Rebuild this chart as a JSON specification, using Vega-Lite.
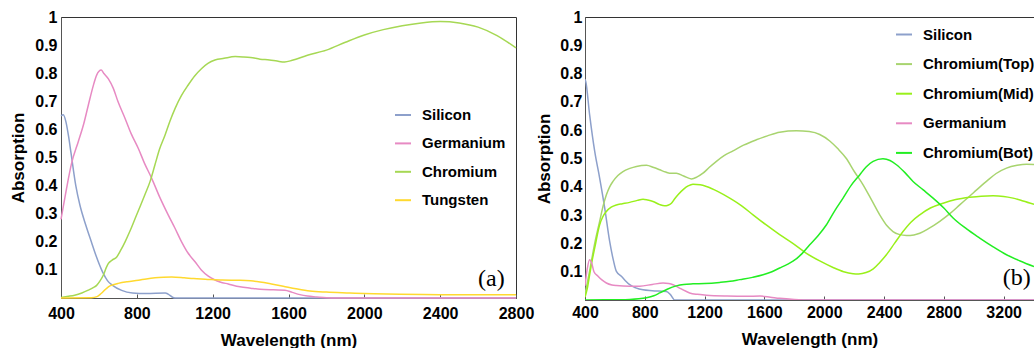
{
  "$schema": "https://vega.github.io/schema/vega-lite/v6.json",
  "padding": {"left": 9, "top": 8, "right": 0, "bottom": 0},
  "spacing": 0,
  "config": {
    "font": "Liberation Sans",
    "view": {"stroke": "#333"},
    "axis": {"labelFont": "Liberation Sans", "labelFontWeight": "bold", "labelFontSize": 16, "labelColor": "#000", "titleFont": "Liberation Sans", "titleFontWeight": "bold", "titleFontSize": 17, "titleColor": "#000", "grid": false, "domainColor": "#555", "labelFlush": false, "labelOverlap": false},
    "legend": {"orient": "none", "direction": "vertical", "title": null, "labelFont": "Liberation Sans", "labelFontSize": 15, "labelFontWeight": "bold", "labelColor": "#000", "symbolSize": 256, "symbolStrokeWidth": 2, "labelOffset": 10, "padding": 0}
  },
  "resolve": {"scale": {"color": "independent"}},
  "datasets": {
    "a": [
      {"s": "Silicon", "x": 400, "y": 0.648}, {"s": "Silicon", "x": 412, "y": 0.652}, {"s": "Silicon", "x": 426, "y": 0.627}, {"s": "Silicon", "x": 440, "y": 0.575}, {"s": "Silicon", "x": 452, "y": 0.52}, {"s": "Silicon", "x": 478, "y": 0.4}, {"s": "Silicon", "x": 500, "y": 0.33}, {"s": "Silicon", "x": 531, "y": 0.259}, {"s": "Silicon", "x": 560, "y": 0.2}, {"s": "Silicon", "x": 584, "y": 0.152}, {"s": "Silicon", "x": 619, "y": 0.093}, {"s": "Silicon", "x": 645, "y": 0.062}, {"s": "Silicon", "x": 672, "y": 0.045}, {"s": "Silicon", "x": 720, "y": 0.027}, {"s": "Silicon", "x": 777, "y": 0.018}, {"s": "Silicon", "x": 850, "y": 0.016}, {"s": "Silicon", "x": 950, "y": 0.018}, {"s": "Silicon", "x": 965, "y": 0.014}, {"s": "Silicon", "x": 990, "y": 0.002}, {"s": "Silicon", "x": 1000, "y": 0}, {"s": "Silicon", "x": 1500, "y": 0}, {"s": "Silicon", "x": 2800, "y": 0},
      {"s": "Germanium", "x": 400, "y": 0.28}, {"s": "Germanium", "x": 426, "y": 0.378}, {"s": "Germanium", "x": 456, "y": 0.48}, {"s": "Germanium", "x": 491, "y": 0.556}, {"s": "Germanium", "x": 520, "y": 0.62}, {"s": "Germanium", "x": 544, "y": 0.686}, {"s": "Germanium", "x": 570, "y": 0.755}, {"s": "Germanium", "x": 588, "y": 0.793}, {"s": "Germanium", "x": 612, "y": 0.811}, {"s": "Germanium", "x": 625, "y": 0.8}, {"s": "Germanium", "x": 650, "y": 0.78}, {"s": "Germanium", "x": 676, "y": 0.746}, {"s": "Germanium", "x": 700, "y": 0.7}, {"s": "Germanium", "x": 738, "y": 0.639}, {"s": "Germanium", "x": 770, "y": 0.585}, {"s": "Germanium", "x": 808, "y": 0.532}, {"s": "Germanium", "x": 840, "y": 0.48}, {"s": "Germanium", "x": 879, "y": 0.425}, {"s": "Germanium", "x": 920, "y": 0.36}, {"s": "Germanium", "x": 966, "y": 0.295}, {"s": "Germanium", "x": 1000, "y": 0.25}, {"s": "Germanium", "x": 1036, "y": 0.2}, {"s": "Germanium", "x": 1070, "y": 0.16}, {"s": "Germanium", "x": 1107, "y": 0.129}, {"s": "Germanium", "x": 1140, "y": 0.1}, {"s": "Germanium", "x": 1177, "y": 0.078}, {"s": "Germanium", "x": 1210, "y": 0.065}, {"s": "Germanium", "x": 1239, "y": 0.057}, {"s": "Germanium", "x": 1282, "y": 0.05}, {"s": "Germanium", "x": 1344, "y": 0.04}, {"s": "Germanium", "x": 1400, "y": 0.035}, {"s": "Germanium", "x": 1450, "y": 0.031}, {"s": "Germanium", "x": 1520, "y": 0.029}, {"s": "Germanium", "x": 1581, "y": 0.028}, {"s": "Germanium", "x": 1620, "y": 0.02}, {"s": "Germanium", "x": 1660, "y": 0.012}, {"s": "Germanium", "x": 1700, "y": 0.007}, {"s": "Germanium", "x": 1748, "y": 0.004}, {"s": "Germanium", "x": 1800, "y": 0.001}, {"s": "Germanium", "x": 1850, "y": 0}, {"s": "Germanium", "x": 2800, "y": 0},
      {"s": "Chromium", "x": 400, "y": 0.002}, {"s": "Chromium", "x": 440, "y": 0.006}, {"s": "Chromium", "x": 472, "y": 0.01}, {"s": "Chromium", "x": 510, "y": 0.018}, {"s": "Chromium", "x": 544, "y": 0.028}, {"s": "Chromium", "x": 570, "y": 0.037}, {"s": "Chromium", "x": 588, "y": 0.045}, {"s": "Chromium", "x": 605, "y": 0.06}, {"s": "Chromium", "x": 623, "y": 0.081}, {"s": "Chromium", "x": 640, "y": 0.11}, {"s": "Chromium", "x": 650, "y": 0.123}, {"s": "Chromium", "x": 670, "y": 0.135}, {"s": "Chromium", "x": 694, "y": 0.146}, {"s": "Chromium", "x": 715, "y": 0.17}, {"s": "Chromium", "x": 738, "y": 0.2}, {"s": "Chromium", "x": 765, "y": 0.24}, {"s": "Chromium", "x": 791, "y": 0.283}, {"s": "Chromium", "x": 820, "y": 0.33}, {"s": "Chromium", "x": 844, "y": 0.37}, {"s": "Chromium", "x": 870, "y": 0.415}, {"s": "Chromium", "x": 896, "y": 0.475}, {"s": "Chromium", "x": 920, "y": 0.53}, {"s": "Chromium", "x": 949, "y": 0.58}, {"s": "Chromium", "x": 975, "y": 0.63}, {"s": "Chromium", "x": 1002, "y": 0.675}, {"s": "Chromium", "x": 1035, "y": 0.72}, {"s": "Chromium", "x": 1071, "y": 0.758}, {"s": "Chromium", "x": 1105, "y": 0.79}, {"s": "Chromium", "x": 1142, "y": 0.817}, {"s": "Chromium", "x": 1175, "y": 0.835}, {"s": "Chromium", "x": 1212, "y": 0.847}, {"s": "Chromium", "x": 1260, "y": 0.853}, {"s": "Chromium", "x": 1319, "y": 0.859}, {"s": "Chromium", "x": 1360, "y": 0.858}, {"s": "Chromium", "x": 1400, "y": 0.856}, {"s": "Chromium", "x": 1450, "y": 0.85}, {"s": "Chromium", "x": 1500, "y": 0.847}, {"s": "Chromium", "x": 1540, "y": 0.843}, {"s": "Chromium", "x": 1580, "y": 0.84}, {"s": "Chromium", "x": 1620, "y": 0.846}, {"s": "Chromium", "x": 1700, "y": 0.864}, {"s": "Chromium", "x": 1800, "y": 0.882}, {"s": "Chromium", "x": 1900, "y": 0.91}, {"s": "Chromium", "x": 2000, "y": 0.936}, {"s": "Chromium", "x": 2100, "y": 0.955}, {"s": "Chromium", "x": 2200, "y": 0.969}, {"s": "Chromium", "x": 2300, "y": 0.979}, {"s": "Chromium", "x": 2400, "y": 0.984}, {"s": "Chromium", "x": 2500, "y": 0.979}, {"s": "Chromium", "x": 2600, "y": 0.964}, {"s": "Chromium", "x": 2700, "y": 0.934}, {"s": "Chromium", "x": 2800, "y": 0.89},
      {"s": "Tungsten", "x": 400, "y": 0}, {"s": "Tungsten", "x": 560, "y": 0.001}, {"s": "Tungsten", "x": 590, "y": 0.005}, {"s": "Tungsten", "x": 610, "y": 0.015}, {"s": "Tungsten", "x": 630, "y": 0.028}, {"s": "Tungsten", "x": 650, "y": 0.04}, {"s": "Tungsten", "x": 675, "y": 0.047}, {"s": "Tungsten", "x": 702, "y": 0.052}, {"s": "Tungsten", "x": 750, "y": 0.058}, {"s": "Tungsten", "x": 808, "y": 0.063}, {"s": "Tungsten", "x": 850, "y": 0.068}, {"s": "Tungsten", "x": 896, "y": 0.072}, {"s": "Tungsten", "x": 940, "y": 0.074}, {"s": "Tungsten", "x": 984, "y": 0.075}, {"s": "Tungsten", "x": 1050, "y": 0.072}, {"s": "Tungsten", "x": 1100, "y": 0.069}, {"s": "Tungsten", "x": 1161, "y": 0.067}, {"s": "Tungsten", "x": 1250, "y": 0.064}, {"s": "Tungsten", "x": 1344, "y": 0.063}, {"s": "Tungsten", "x": 1400, "y": 0.061}, {"s": "Tungsten", "x": 1450, "y": 0.057}, {"s": "Tungsten", "x": 1510, "y": 0.05}, {"s": "Tungsten", "x": 1572, "y": 0.042}, {"s": "Tungsten", "x": 1640, "y": 0.033}, {"s": "Tungsten", "x": 1713, "y": 0.025}, {"s": "Tungsten", "x": 1800, "y": 0.021}, {"s": "Tungsten", "x": 1924, "y": 0.018}, {"s": "Tungsten", "x": 2050, "y": 0.015}, {"s": "Tungsten", "x": 2188, "y": 0.013}, {"s": "Tungsten", "x": 2400, "y": 0.012}, {"s": "Tungsten", "x": 2800, "y": 0.012}
    ],
    "b": [
      {"s": "Silicon", "x": 400, "y": 0.78}, {"s": "Silicon", "x": 405, "y": 0.772}, {"s": "Silicon", "x": 431, "y": 0.654}, {"s": "Silicon", "x": 465, "y": 0.525}, {"s": "Silicon", "x": 498, "y": 0.431}, {"s": "Silicon", "x": 532, "y": 0.325}, {"s": "Silicon", "x": 565, "y": 0.207}, {"s": "Silicon", "x": 590, "y": 0.14}, {"s": "Silicon", "x": 610, "y": 0.101}, {"s": "Silicon", "x": 643, "y": 0.084}, {"s": "Silicon", "x": 670, "y": 0.068}, {"s": "Silicon", "x": 699, "y": 0.054}, {"s": "Silicon", "x": 740, "y": 0.043}, {"s": "Silicon", "x": 788, "y": 0.036}, {"s": "Silicon", "x": 850, "y": 0.033}, {"s": "Silicon", "x": 944, "y": 0.03}, {"s": "Silicon", "x": 970, "y": 0.02}, {"s": "Silicon", "x": 1000, "y": 0}, {"s": "Silicon", "x": 1500, "y": 0}, {"s": "Silicon", "x": 3403, "y": 0},
      {"s": "Chromium(Top)", "x": 400, "y": 0.02}, {"s": "Chromium(Top)", "x": 430, "y": 0.1}, {"s": "Chromium(Top)", "x": 465, "y": 0.2}, {"s": "Chromium(Top)", "x": 498, "y": 0.278}, {"s": "Chromium(Top)", "x": 520, "y": 0.33}, {"s": "Chromium(Top)", "x": 543, "y": 0.372}, {"s": "Chromium(Top)", "x": 565, "y": 0.4}, {"s": "Chromium(Top)", "x": 587, "y": 0.419}, {"s": "Chromium(Top)", "x": 620, "y": 0.44}, {"s": "Chromium(Top)", "x": 654, "y": 0.454}, {"s": "Chromium(Top)", "x": 700, "y": 0.465}, {"s": "Chromium(Top)", "x": 744, "y": 0.472}, {"s": "Chromium(Top)", "x": 811, "y": 0.476}, {"s": "Chromium(Top)", "x": 860, "y": 0.468}, {"s": "Chromium(Top)", "x": 900, "y": 0.46}, {"s": "Chromium(Top)", "x": 940, "y": 0.452}, {"s": "Chromium(Top)", "x": 967, "y": 0.448}, {"s": "Chromium(Top)", "x": 1011, "y": 0.448}, {"s": "Chromium(Top)", "x": 1060, "y": 0.438}, {"s": "Chromium(Top)", "x": 1112, "y": 0.428}, {"s": "Chromium(Top)", "x": 1150, "y": 0.435}, {"s": "Chromium(Top)", "x": 1189, "y": 0.448}, {"s": "Chromium(Top)", "x": 1230, "y": 0.468}, {"s": "Chromium(Top)", "x": 1279, "y": 0.49}, {"s": "Chromium(Top)", "x": 1330, "y": 0.51}, {"s": "Chromium(Top)", "x": 1390, "y": 0.527}, {"s": "Chromium(Top)", "x": 1460, "y": 0.547}, {"s": "Chromium(Top)", "x": 1546, "y": 0.566}, {"s": "Chromium(Top)", "x": 1620, "y": 0.58}, {"s": "Chromium(Top)", "x": 1702, "y": 0.593}, {"s": "Chromium(Top)", "x": 1814, "y": 0.598}, {"s": "Chromium(Top)", "x": 1900, "y": 0.595}, {"s": "Chromium(Top)", "x": 1970, "y": 0.585}, {"s": "Chromium(Top)", "x": 2037, "y": 0.562}, {"s": "Chromium(Top)", "x": 2090, "y": 0.535}, {"s": "Chromium(Top)", "x": 2148, "y": 0.5}, {"s": "Chromium(Top)", "x": 2200, "y": 0.455}, {"s": "Chromium(Top)", "x": 2260, "y": 0.407}, {"s": "Chromium(Top)", "x": 2320, "y": 0.35}, {"s": "Chromium(Top)", "x": 2371, "y": 0.301}, {"s": "Chromium(Top)", "x": 2420, "y": 0.262}, {"s": "Chromium(Top)", "x": 2460, "y": 0.242}, {"s": "Chromium(Top)", "x": 2500, "y": 0.232}, {"s": "Chromium(Top)", "x": 2550, "y": 0.228}, {"s": "Chromium(Top)", "x": 2600, "y": 0.23}, {"s": "Chromium(Top)", "x": 2639, "y": 0.236}, {"s": "Chromium(Top)", "x": 2700, "y": 0.253}, {"s": "Chromium(Top)", "x": 2773, "y": 0.278}, {"s": "Chromium(Top)", "x": 2840, "y": 0.305}, {"s": "Chromium(Top)", "x": 2906, "y": 0.336}, {"s": "Chromium(Top)", "x": 3000, "y": 0.38}, {"s": "Chromium(Top)", "x": 3085, "y": 0.419}, {"s": "Chromium(Top)", "x": 3150, "y": 0.447}, {"s": "Chromium(Top)", "x": 3219, "y": 0.466}, {"s": "Chromium(Top)", "x": 3290, "y": 0.476}, {"s": "Chromium(Top)", "x": 3353, "y": 0.48}, {"s": "Chromium(Top)", "x": 3403, "y": 0.479},
      {"s": "Chromium(Mid)", "x": 400, "y": 0.01}, {"s": "Chromium(Mid)", "x": 415, "y": 0.04}, {"s": "Chromium(Mid)", "x": 431, "y": 0.089}, {"s": "Chromium(Mid)", "x": 448, "y": 0.14}, {"s": "Chromium(Mid)", "x": 465, "y": 0.184}, {"s": "Chromium(Mid)", "x": 498, "y": 0.266}, {"s": "Chromium(Mid)", "x": 520, "y": 0.295}, {"s": "Chromium(Mid)", "x": 543, "y": 0.313}, {"s": "Chromium(Mid)", "x": 575, "y": 0.328}, {"s": "Chromium(Mid)", "x": 610, "y": 0.336}, {"s": "Chromium(Mid)", "x": 650, "y": 0.34}, {"s": "Chromium(Mid)", "x": 699, "y": 0.345}, {"s": "Chromium(Mid)", "x": 750, "y": 0.352}, {"s": "Chromium(Mid)", "x": 788, "y": 0.356}, {"s": "Chromium(Mid)", "x": 820, "y": 0.353}, {"s": "Chromium(Mid)", "x": 855, "y": 0.348}, {"s": "Chromium(Mid)", "x": 900, "y": 0.337}, {"s": "Chromium(Mid)", "x": 933, "y": 0.333}, {"s": "Chromium(Mid)", "x": 955, "y": 0.335}, {"s": "Chromium(Mid)", "x": 978, "y": 0.342}, {"s": "Chromium(Mid)", "x": 1000, "y": 0.358}, {"s": "Chromium(Mid)", "x": 1022, "y": 0.372}, {"s": "Chromium(Mid)", "x": 1060, "y": 0.392}, {"s": "Chromium(Mid)", "x": 1090, "y": 0.403}, {"s": "Chromium(Mid)", "x": 1122, "y": 0.409}, {"s": "Chromium(Mid)", "x": 1170, "y": 0.407}, {"s": "Chromium(Mid)", "x": 1212, "y": 0.401}, {"s": "Chromium(Mid)", "x": 1290, "y": 0.383}, {"s": "Chromium(Mid)", "x": 1368, "y": 0.36}, {"s": "Chromium(Mid)", "x": 1450, "y": 0.332}, {"s": "Chromium(Mid)", "x": 1524, "y": 0.301}, {"s": "Chromium(Mid)", "x": 1610, "y": 0.266}, {"s": "Chromium(Mid)", "x": 1702, "y": 0.231}, {"s": "Chromium(Mid)", "x": 1790, "y": 0.2}, {"s": "Chromium(Mid)", "x": 1881, "y": 0.165}, {"s": "Chromium(Mid)", "x": 1970, "y": 0.138}, {"s": "Chromium(Mid)", "x": 2059, "y": 0.115}, {"s": "Chromium(Mid)", "x": 2130, "y": 0.1}, {"s": "Chromium(Mid)", "x": 2193, "y": 0.093}, {"s": "Chromium(Mid)", "x": 2230, "y": 0.092}, {"s": "Chromium(Mid)", "x": 2280, "y": 0.097}, {"s": "Chromium(Mid)", "x": 2328, "y": 0.11}, {"s": "Chromium(Mid)", "x": 2370, "y": 0.132}, {"s": "Chromium(Mid)", "x": 2416, "y": 0.16}, {"s": "Chromium(Mid)", "x": 2470, "y": 0.2}, {"s": "Chromium(Mid)", "x": 2527, "y": 0.242}, {"s": "Chromium(Mid)", "x": 2580, "y": 0.275}, {"s": "Chromium(Mid)", "x": 2639, "y": 0.301}, {"s": "Chromium(Mid)", "x": 2710, "y": 0.325}, {"s": "Chromium(Mid)", "x": 2795, "y": 0.342}, {"s": "Chromium(Mid)", "x": 2880, "y": 0.355}, {"s": "Chromium(Mid)", "x": 2973, "y": 0.363}, {"s": "Chromium(Mid)", "x": 3050, "y": 0.367}, {"s": "Chromium(Mid)", "x": 3129, "y": 0.368}, {"s": "Chromium(Mid)", "x": 3200, "y": 0.366}, {"s": "Chromium(Mid)", "x": 3263, "y": 0.36}, {"s": "Chromium(Mid)", "x": 3330, "y": 0.35}, {"s": "Chromium(Mid)", "x": 3403, "y": 0.338},
      {"s": "Germanium", "x": 400, "y": 0.05}, {"s": "Germanium", "x": 415, "y": 0.11}, {"s": "Germanium", "x": 431, "y": 0.142}, {"s": "Germanium", "x": 445, "y": 0.13}, {"s": "Germanium", "x": 460, "y": 0.1}, {"s": "Germanium", "x": 487, "y": 0.084}, {"s": "Germanium", "x": 515, "y": 0.07}, {"s": "Germanium", "x": 543, "y": 0.06}, {"s": "Germanium", "x": 580, "y": 0.053}, {"s": "Germanium", "x": 610, "y": 0.051}, {"s": "Germanium", "x": 700, "y": 0.049}, {"s": "Germanium", "x": 766, "y": 0.049}, {"s": "Germanium", "x": 850, "y": 0.055}, {"s": "Germanium", "x": 922, "y": 0.06}, {"s": "Germanium", "x": 960, "y": 0.058}, {"s": "Germanium", "x": 989, "y": 0.054}, {"s": "Germanium", "x": 1040, "y": 0.04}, {"s": "Germanium", "x": 1100, "y": 0.025}, {"s": "Germanium", "x": 1150, "y": 0.02}, {"s": "Germanium", "x": 1212, "y": 0.017}, {"s": "Germanium", "x": 1350, "y": 0.014}, {"s": "Germanium", "x": 1480, "y": 0.013}, {"s": "Germanium", "x": 1570, "y": 0.014}, {"s": "Germanium", "x": 1640, "y": 0.01}, {"s": "Germanium", "x": 1702, "y": 0.006}, {"s": "Germanium", "x": 1800, "y": 0.002}, {"s": "Germanium", "x": 1900, "y": 0}, {"s": "Germanium", "x": 3403, "y": 0},
      {"s": "Chromium(Bot)", "x": 400, "y": 0}, {"s": "Chromium(Bot)", "x": 600, "y": 0.001}, {"s": "Chromium(Bot)", "x": 700, "y": 0.002}, {"s": "Chromium(Bot)", "x": 760, "y": 0.004}, {"s": "Chromium(Bot)", "x": 811, "y": 0.008}, {"s": "Chromium(Bot)", "x": 860, "y": 0.015}, {"s": "Chromium(Bot)", "x": 900, "y": 0.025}, {"s": "Chromium(Bot)", "x": 950, "y": 0.038}, {"s": "Chromium(Bot)", "x": 1011, "y": 0.05}, {"s": "Chromium(Bot)", "x": 1060, "y": 0.055}, {"s": "Chromium(Bot)", "x": 1122, "y": 0.057}, {"s": "Chromium(Bot)", "x": 1200, "y": 0.058}, {"s": "Chromium(Bot)", "x": 1301, "y": 0.062}, {"s": "Chromium(Bot)", "x": 1370, "y": 0.066}, {"s": "Chromium(Bot)", "x": 1435, "y": 0.072}, {"s": "Chromium(Bot)", "x": 1520, "y": 0.08}, {"s": "Chromium(Bot)", "x": 1591, "y": 0.089}, {"s": "Chromium(Bot)", "x": 1650, "y": 0.1}, {"s": "Chromium(Bot)", "x": 1702, "y": 0.113}, {"s": "Chromium(Bot)", "x": 1750, "y": 0.125}, {"s": "Chromium(Bot)", "x": 1791, "y": 0.137}, {"s": "Chromium(Bot)", "x": 1850, "y": 0.163}, {"s": "Chromium(Bot)", "x": 1903, "y": 0.195}, {"s": "Chromium(Bot)", "x": 1960, "y": 0.228}, {"s": "Chromium(Bot)", "x": 2015, "y": 0.266}, {"s": "Chromium(Bot)", "x": 2070, "y": 0.315}, {"s": "Chromium(Bot)", "x": 2126, "y": 0.36}, {"s": "Chromium(Bot)", "x": 2180, "y": 0.405}, {"s": "Chromium(Bot)", "x": 2237, "y": 0.442}, {"s": "Chromium(Bot)", "x": 2280, "y": 0.47}, {"s": "Chromium(Bot)", "x": 2327, "y": 0.49}, {"s": "Chromium(Bot)", "x": 2393, "y": 0.499}, {"s": "Chromium(Bot)", "x": 2440, "y": 0.493}, {"s": "Chromium(Bot)", "x": 2483, "y": 0.478}, {"s": "Chromium(Bot)", "x": 2540, "y": 0.45}, {"s": "Chromium(Bot)", "x": 2594, "y": 0.419}, {"s": "Chromium(Bot)", "x": 2660, "y": 0.39}, {"s": "Chromium(Bot)", "x": 2728, "y": 0.36}, {"s": "Chromium(Bot)", "x": 2800, "y": 0.325}, {"s": "Chromium(Bot)", "x": 2862, "y": 0.29}, {"s": "Chromium(Bot)", "x": 2950, "y": 0.252}, {"s": "Chromium(Bot)", "x": 3040, "y": 0.219}, {"s": "Chromium(Bot)", "x": 3130, "y": 0.188}, {"s": "Chromium(Bot)", "x": 3219, "y": 0.16}, {"s": "Chromium(Bot)", "x": 3310, "y": 0.138}, {"s": "Chromium(Bot)", "x": 3403, "y": 0.118}
    ]
  },
  "hconcat": [
    {
      "width": 455,
      "height": 281,
      "layer": [
        {
          "data": {"name": "a"},
          "mark": {"type": "line", "strokeWidth": 1.5, "interpolate": "monotone"},
          "encoding": {
            "x": {"field": "x", "type": "quantitative", "scale": {"domain": [400, 2800], "nice": false, "zero": false},
                  "axis": {"values": [400, 800, 1200, 1600, 2000, 2400, 2800], "tickCount": 20, "format": "d", "tickSize": -4, "tickColor": "#555", "labelPadding": 11, "labelFlush": false, "labelOverlap": false, "title": "Wavelength (nm)", "titlePadding": 11}},
            "y": {"field": "y", "type": "quantitative", "scale": {"domain": [0, 1], "nice": false},
                  "axis": {"values": [0.1, 0.2, 0.3, 0.4, 0.5, 0.6, 0.7, 0.8, 0.9, 1], "tickCount": 20, "format": ".1~f", "ticks": false, "labelPadding": 4, "labelOverlap": false, "labelBound": false, "title": "Absorption", "titlePadding": 7}},
            "color": {"field": "s", "type": "nominal",
                      "scale": {"domain": ["Silicon", "Germanium", "Chromium", "Tungsten"], "range": ["#8da0cb", "#e78ac3", "#a6d854", "#ffd92f"]},
                      "legend": {"legendX": 333, "legendY": 89, "rowPadding": 11.4}}
          }
        },
        {
          "data": {"values": [{}]},
          "mark": {"type": "text", "text": "(a)", "font": "Liberation Serif", "fontSize": 24, "align": "center", "baseline": "alphabetic", "color": "#000"},
          "encoding": {"x": {"datum": 2670, "type": "quantitative"}, "y": {"datum": 0.043, "type": "quantitative"}}
        }
      ]
    },
    {
      "width": 449,
      "height": 283,
      "layer": [
        {
          "data": {"name": "b"},
          "mark": {"type": "line", "strokeWidth": 1.5, "interpolate": "monotone", "clip": true},
          "encoding": {
            "x": {"field": "x", "type": "quantitative", "scale": {"domain": [400, 3403], "nice": false, "zero": false},
                  "axis": {"values": [400, 800, 1200, 1600, 2000, 2400, 2800, 3200], "tickCount": 20, "format": "d", "tickSize": -4, "tickColor": "#555", "labelPadding": 8.5, "labelFlush": false, "labelOverlap": false, "title": "Wavelength (nm)", "titlePadding": 11}},
            "y": {"field": "y", "type": "quantitative", "scale": {"domain": [0, 1], "nice": false},
                  "axis": {"values": [0.1, 0.2, 0.3, 0.4, 0.5, 0.6, 0.7, 0.8, 0.9, 1], "tickCount": 20, "format": ".1~f", "ticks": false, "labelPadding": 3, "labelOverlap": false, "labelBound": false, "title": "Absorption", "titlePadding": 6}},
            "color": {"field": "s", "type": "nominal",
                      "scale": {"domain": ["Silicon", "Chromium(Top)", "Chromium(Mid)", "Germanium", "Chromium(Bot)"], "range": ["#8da0cb", "#a8d46f", "#99f01a", "#e78ac3", "#22ee22"]},
                      "legend": {"legendX": 310, "legendY": 8.5, "rowPadding": 12.6}}
          }
        },
        {
          "data": {"values": [{}]},
          "mark": {"type": "text", "text": "(b)", "font": "Liberation Serif", "fontSize": 24, "align": "center", "baseline": "alphabetic", "color": "#000"},
          "encoding": {"x": {"datum": 3288, "type": "quantitative"}, "y": {"datum": 0.054, "type": "quantitative"}}
        }
      ]
    }
  ]
}
